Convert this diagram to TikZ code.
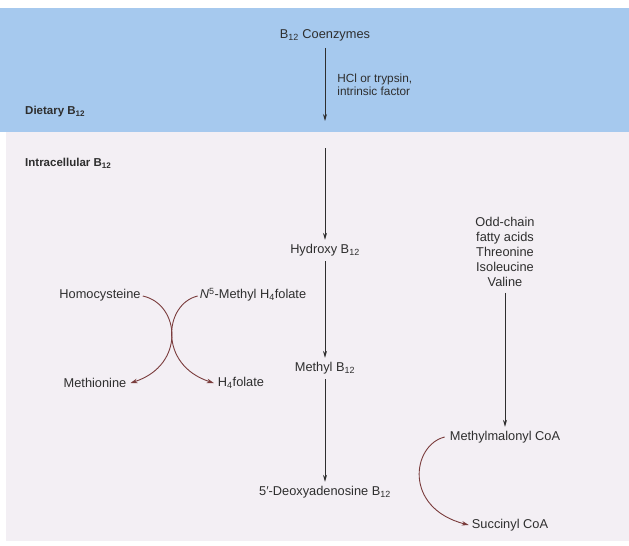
\documentclass[tikz,border=0pt]{standalone}
\usepackage{fontspec}
\setmainfont{Liberation Sans}
\usepackage{tikz}
\usetikzlibrary{arrows.meta, positioning}
\definecolor{dietblue}{HTML}{A6C9EE}
\definecolor{cellmauve}{HTML}{F3EFF4}
\definecolor{inkgray}{HTML}{2E2E2E}
\definecolor{folatered}{HTML}{7A3C3C}

\begin{document}
\begin{tikzpicture}[x=1pt, y=-1pt, font=\fontsize{12.8}{15}\selectfont,
  compound/.style={text=inkgray, inner sep=2pt},
  zone/.style={text=inkgray, font=\fontsize{11.5}{14}\selectfont\bfseries, anchor=west, inner sep=0pt},
  flow/.style={draw=inkgray, line width=0.8pt, -{Stealth[length=7pt, width=4pt]}},
  cycle arrow/.style={draw=folatered, line width=0.9pt, -{Stealth[length=7pt, width=4.5pt]}}]
  \useasboundingbox (0,0) rectangle (629,546);
  \fill[white] (0,0) rectangle (629,546);
  \fill[cellmauve] (6,132) rectangle (629,541);
  \fill[dietblue] (0,8) rectangle (629,132);

  % zones
  \node[zone] (dietary) at (25,112) {Dietary B\textsubscript{12}};
  \node[zone] (intra) at (25,163) {Intracellular B\textsubscript{12}};

  % main chain
  \node[compound] (coenz) at (325,35) {B\textsubscript{12} Coenzymes};
  \coordinate (gutEnd) at (325,121);
  \coordinate (cellStart) at (325,148);
  \node[compound] (hydroxy) at (325,250) {Hydroxy B\textsubscript{12}};
  \node[compound] (methyl) at (325,368) {Methyl B\textsubscript{12}};
  \node[compound] (deoxy) at (325,492) {5′-Deoxyadenosine B\textsubscript{12}};

  \draw[flow] ([yshift=-5pt]coenz.south) -- (gutEnd)
    node[midway, right=10pt, align=left, compound, font=\fontsize{11.8}{13}\selectfont]
    {HCl or trypsin,\\ intrinsic factor};
  \draw[flow] (cellStart) -- ([yshift=2pt]hydroxy.north);
  \draw[flow] ([yshift=-3pt]hydroxy.south) -- ([yshift=2pt]methyl.north);
  \draw[flow] ([yshift=-3pt]methyl.south) -- ([yshift=2pt]deoxy.north);

  % propionate branch
  \node[compound, align=center] (odd) at (505,252)
    {Odd-chain\\ fatty acids\\ Threonine\\ Isoleucine\\ Valine};
  \node[compound] (methylmal) at (505,437) {Methylmalonyl CoA};
  \node[compound] (succ) at (510,525) {Succinyl CoA};
  \draw[flow] ([yshift=-4pt]odd.south) -- ([yshift=2pt]methylmal.north);
  \draw[cycle arrow] ([xshift=-3pt]methylmal.west) .. controls (412,445) and (403,508) .. ([xshift=-1pt]succ.west);

  % folate exchange
  \node[compound] (homo) at (100,295) {Homocysteine};
  \node[compound] (n5) at (253,295) {\textit{N}\textsuperscript{5}-Methyl H\textsubscript{4}folate};
  \node[compound] (methion) at (95,383) {Methionine};
  \node[compound] (h4fol) at (241,383) {H\textsubscript{4}folate};
  \draw[cycle arrow] ([yshift=-1pt]homo.east) .. controls (180,304) and (186,365) .. ([xshift=2pt]methion.east);
  \draw[cycle arrow] ([yshift=-1pt]n5.west) .. controls (164,304) and (158,365) .. ([xshift=-2pt]h4fol.west);
\end{tikzpicture}
\end{document}
